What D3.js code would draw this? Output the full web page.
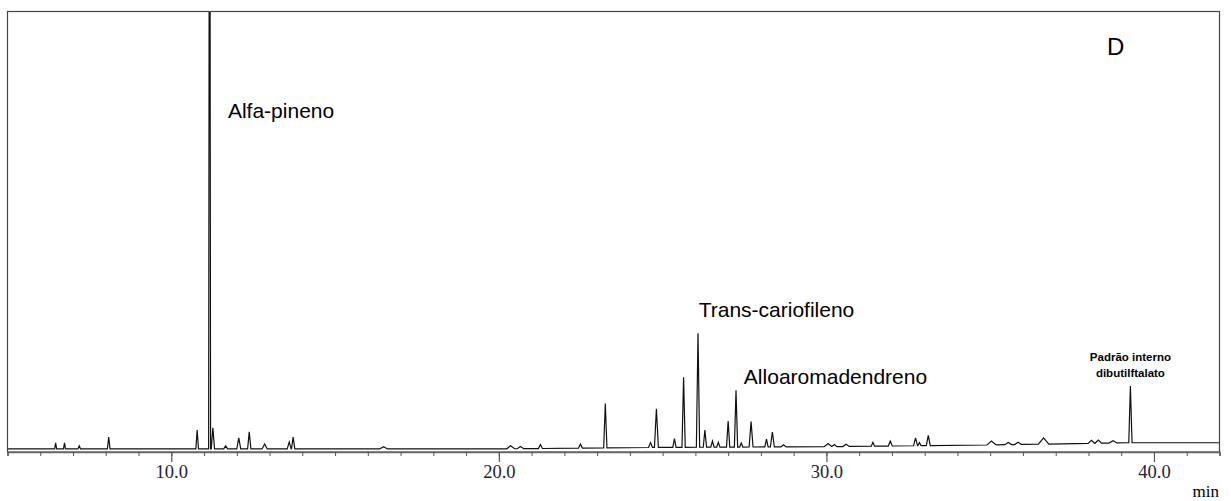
<!DOCTYPE html>
<html>
<head>
<meta charset="utf-8">
<script src="https://cdn.jsdelivr.net/npm/d3@7"></script>
<style>
  body { margin: 0; background: #fff; }
  svg { display: block; }
  .lbl { font-family: "Liberation Sans", Arial, sans-serif; fill: #000; }
  .tick-lbl { font-family: "Liberation Serif", "Times New Roman", serif; }
</style>
</head>
<body>
<div id="chart"></div>
<script>
// retention time (min), peak height (arbitrary units), half width (min)
const peakTimes   = [6.47, 6.74, 7.19, 8.09, 10.79, 11.17, 11.27, 11.66, 12.06, 12.38, 12.85, 13.6, 13.72, 16.48,
                     20.36, 20.66, 21.27, 22.49, 23.25, 24.63, 24.81, 25.36, 25.64, 26.08, 26.29, 26.52, 26.7,
                     27.0, 27.24, 27.4, 27.7, 28.17, 28.35, 28.69, 30.05, 30.24, 30.6, 31.42, 31.95, 32.72,
                     32.84, 33.11, 35.04, 35.55, 35.85, 36.63, 38.09, 38.3, 38.75, 39.28]
const peakHeights = [1.4, 1.4, 0.7, 2.7, 4.3, 200, 4.8, 0.7, 2.5, 3.9, 1.1, 1.6, 2.7, 0.5,
                     0.7, 0.5, 0.9, 0.9, 10.1, 1.1, 8.8, 2.0, 15.9, 25.9, 3.9, 1.4, 1.1,
                     5.9, 12.9, 0.9, 5.8, 1.8, 3.4, 0.5, 0.7, 0.5, 0.5, 0.9, 1.1, 1.8,
                     0.7, 2.3, 0.9, 0.5, 0.5, 1.4, 0.7, 0.7, 0.5, 12.9]
const peakWidths  = [0.03, 0.03, 0.04, 0.04, 0.04, 0.03, 0.05, 0.06, 0.06, 0.05, 0.08, 0.06, 0.05, 0.12,
                     0.12, 0.1, 0.06, 0.06, 0.05, 0.06, 0.06, 0.05, 0.05, 0.05, 0.05, 0.05, 0.05,
                     0.05, 0.05, 0.05, 0.06, 0.05, 0.06, 0.08, 0.12, 0.08, 0.1, 0.05, 0.06, 0.06,
                     0.05, 0.06, 0.14, 0.1, 0.1, 0.16, 0.1, 0.1, 0.12, 0.05]

// baseline drift knots
const baseTimes  = [5, 20, 25, 30, 35, 38, 39.2, 42]
const baseValues = [0.7, 0.7, 1.05, 1.2, 1.6, 1.95, 2.1, 2.1]

const labelTexts = ['Alfa-pineno', 'Trans-cariofileno', 'Alloaromadendreno']
const majorTicks = [10, 20, 30, 40]

const W = 1231, H = 501
const frame = { x0: 7.5, x1: 1219.5, y0: 11.5, y1: 452 }

const svg = d3.select('#chart').append('svg')
  .attr('width', W).attr('height', H)

const x = d3.scaleLinear().domain([5, 42]).range([frame.x0, frame.x1])
const y = d3.scaleLinear().domain([0, 100]).range([frame.y1, frame.y0])

const baseAt = d3.scaleLinear().domain(baseTimes).range(baseValues).clamp(true)

// trace: baseline plus triangular peaks, evaluated at every knot
let knots = new Set(baseTimes)
peakTimes.forEach((t, i) => {
  knots.add(t - peakWidths[i]); knots.add(t); knots.add(t + peakWidths[i])
})
knots = Array.from(knots).sort((a, b) => a - b)
const trace = knots.map(t => {
  let v = baseAt(t)
  peakTimes.forEach((p, i) => {
    const d = Math.abs(t - p) / peakWidths[i]
    if (d < 1) v += peakHeights[i] * (1 - d)
  })
  return [t, v]
})

svg.append('clipPath').attr('id', 'plot-clip')
  .append('rect')
  .attr('x', frame.x0).attr('y', frame.y0)
  .attr('width', frame.x1 - frame.x0).attr('height', frame.y1 - frame.y0)

svg.append('path')
  .datum(trace)
  .attr('clip-path', 'url(#plot-clip)')
  .attr('fill', 'none')
  .attr('stroke', '#111')
  .attr('stroke-width', 1.2)
  .attr('d', d3.line().x(d => x(d[0])).y(d => y(d[1])))

// frame
svg.append('rect')
  .attr('x', frame.x0).attr('y', frame.y0)
  .attr('width', frame.x1 - frame.x0).attr('height', frame.y1 - frame.y0)
  .attr('fill', 'none').attr('stroke', '#444').attr('stroke-width', 1.2)

// x axis: minor ticks every minute, major every 10
const axisG = svg.append('g').attr('transform', `translate(0,${frame.y1})`)
axisG.call(d3.axisBottom(x).tickValues(d3.range(5, 43, 1)).tickSize(4).tickFormat(''))
axisG.call(g => g.select('.domain').attr('stroke', '#666').attr('stroke-width', 1.5))
axisG.selectAll('.tick line').attr('stroke', '#555')

const majorG = svg.append('g').attr('transform', `translate(0,${frame.y1})`)
majorG.call(d3.axisBottom(x).tickValues(majorTicks).tickSize(10).tickPadding(3)
  .tickFormat(d3.format('.1f')))
majorG.select('.domain').remove()
majorG.selectAll('.tick line').attr('stroke', '#555').attr('stroke-width', 1.2)
majorG.selectAll('.tick text')
  .attr('class', 'tick-lbl')
  .attr('font-size', 18.5)
  .attr('fill', '#1d1d3a')

svg.append('text').attr('class', 'tick-lbl')
  .attr('x', 1219).attr('y', 497).attr('text-anchor', 'end')
  .attr('font-size', 17).attr('fill', '#000').text('min')

// peak labels
const labelPos = [[11.73, 118], [26.1, 317], [27.48, 384]]
labelTexts.forEach((t, i) => {
  svg.append('text').attr('class', 'lbl')
    .attr('x', x(labelPos[i][0])).attr('y', labelPos[i][1])
    .attr('font-size', 21).text(t)
})

svg.append('text').attr('class', 'lbl')
  .attr('x', 1107).attr('y', 55).attr('font-size', 24).text('D')

const std = svg.append('text').attr('class', 'lbl')
  .attr('x', x(39.28)).attr('text-anchor', 'middle')
  .attr('font-size', 11.5).attr('font-weight', 'bold').attr('fill', '#333')
std.append('tspan').attr('x', x(39.28)).attr('y', 361).text('Padrão interno')
std.append('tspan').attr('x', x(39.28)).attr('y', 377).text('dibutilftalato')
</script>
</body>
</html>
